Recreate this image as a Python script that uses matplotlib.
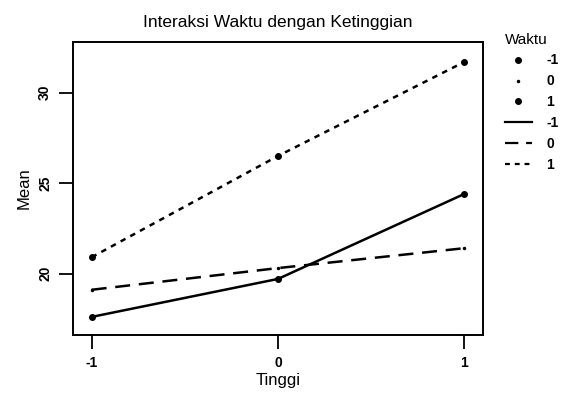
import matplotlib.pyplot as plt
from matplotlib.lines import Line2D

plt.rcParams['font.family'] = ['Liberation Sans', 'DejaVu Sans']

# data
tinggi = [-1, 0, 1]
waktu = ['-1', '0', '1']
mean_w_neg1 = [17.6, 19.7, 24.4]
mean_w_0 = [19.1, 20.3, 21.4]
mean_w_1 = [20.9, 26.5, 31.7]
series = [mean_w_neg1, mean_w_0, mean_w_1]
styles = ['-', (0, (6, 3.5)), (0, (2.2, 2.2))]
msizes = [4, 1.5, 4]

fig = plt.figure(figsize=(5.64, 3.94), dpi=100)
ax = fig.add_axes([73 / 564, 1 - 335 / 394, 410 / 564, 293 / 394])

for vals, ls, ms in zip(series, styles, msizes):
    ax.plot(tinggi, vals, color='black', linestyle=ls, linewidth=1.8,
            marker='o', markersize=ms)

ax.set_xlim(-1.10, 1.10)
ax.set_ylim(16.6, 32.8)
ax.set_xticks(tinggi)
ax.set_xticklabels(['-1', '0', '1'], fontweight='bold')
ax.set_yticks([20, 25, 30])
ax.set_yticklabels(['20', '25', '30'], rotation=90, va='center',
                   fontweight='bold')
ax.tick_params(direction='out', length=10, width=1.3, labelsize=10, pad=5)
for s in ax.spines.values():
    s.set_linewidth(1.4)

ax.set_xlabel('Tinggi', fontsize=12, labelpad=2)
ax.set_ylabel('Mean', fontsize=12, labelpad=5)
ax.set_title('Interaksi Waktu dengan Ketinggian', fontsize=12.5, pad=11)

handles = []
for ms in msizes:
    handles.append(Line2D([], [], color='black', linestyle='none',
                          marker='o', markersize=ms))
for ls in styles:
    handles.append(Line2D([], [], color='black', linestyle=ls, linewidth=1.6))
labels = waktu + waktu
leg = fig.legend(handles, labels, title='Waktu', loc='upper left',
                 bbox_to_anchor=(492 / 564, 1 - 20 / 394), frameon=False,
                 fontsize=10, title_fontsize=11, handlelength=2.0,
                 labelspacing=0.5, handletextpad=1.0, alignment='left')
for t in leg.get_texts():
    t.set_fontweight('bold')

fig.savefig('out.png', dpi=100)
